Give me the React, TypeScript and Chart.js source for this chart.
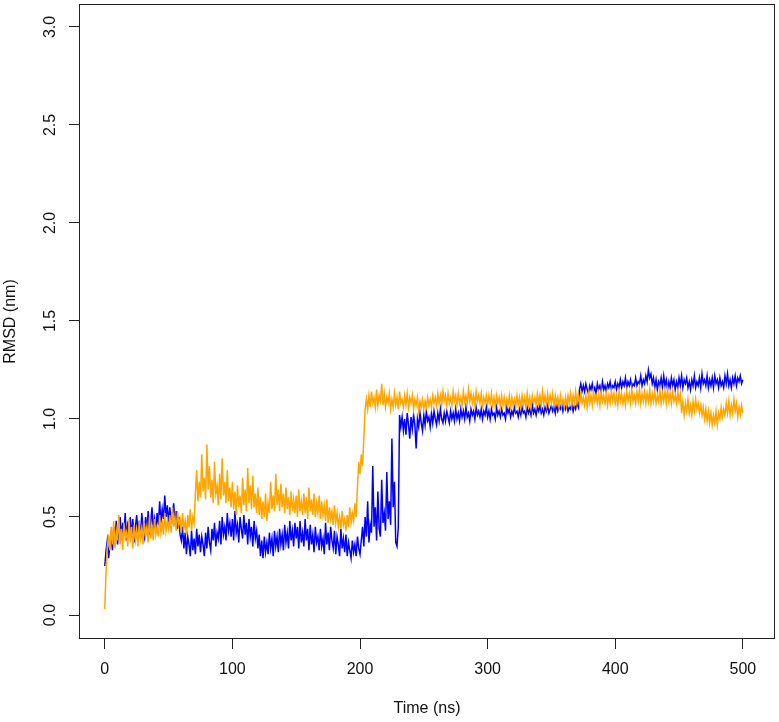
import React, { useEffect, useRef } from "react";
import { Chart, registerables } from "chart.js";

Chart.register(...registerables);

// Time step between samples (ns)
const STEP_NS = 1;

// Tick labels
const xTickValues = [0, 100, 200, 300, 400, 500];
const yTickValues = [0, 0.5, 1.0, 1.5, 2.0, 2.5, 3.0];

const xTitle = "Time (ns)";
const yTitle = "RMSD (nm)";

// Blue series RMSD (nm), one value every 1 ns from 0 to 500
const blueRmsd = [
  0.25, 0.33, 0.38, 0.29, 0.36, 0.42, 0.33, 0.45, 0.38, 0.48, 0.36, 0.44, 0.50, 0.39, 0.47, 0.41, 0.52, 0.38, 0.46, 0.43, 0.50, 0.40, 0.49, 0.37, 0.45,
  0.51, 0.42, 0.48, 0.39, 0.52, 0.44, 0.40, 0.50, 0.43, 0.53, 0.41, 0.47, 0.55, 0.44, 0.49, 0.42, 0.52, 0.46, 0.58, 0.47, 0.54, 0.49, 0.61, 0.50, 0.56,
  0.47, 0.55, 0.45, 0.52, 0.57, 0.46, 0.53, 0.44, 0.50, 0.41, 0.38, 0.45, 0.34, 0.42, 0.31, 0.40, 0.36, 0.30, 0.43, 0.33, 0.39, 0.31, 0.44, 0.35, 0.41,
  0.32, 0.40, 0.36, 0.30, 0.42, 0.34, 0.45, 0.37, 0.33, 0.44, 0.38, 0.47, 0.35, 0.42, 0.39, 0.48, 0.36, 0.50, 0.41, 0.45, 0.38, 0.52, 0.43, 0.47, 0.40,
  0.49, 0.38, 0.53, 0.42, 0.46, 0.37, 0.50, 0.44, 0.39, 0.51, 0.41, 0.47, 0.36, 0.49, 0.40, 0.45, 0.35, 0.48, 0.39, 0.43, 0.34, 0.41, 0.30, 0.38, 0.29,
  0.40, 0.32, 0.37, 0.31, 0.42, 0.34, 0.39, 0.30, 0.43, 0.35, 0.40, 0.32, 0.44, 0.36, 0.41, 0.33, 0.46, 0.37, 0.42, 0.34, 0.48, 0.38, 0.43, 0.35, 0.47,
  0.39, 0.45, 0.34, 0.48, 0.37, 0.42, 0.35, 0.49, 0.38, 0.44, 0.33, 0.46, 0.36, 0.41, 0.32, 0.45, 0.37, 0.40, 0.33, 0.44, 0.35, 0.39, 0.31, 0.47, 0.36,
  0.42, 0.33, 0.45, 0.38, 0.34, 0.43, 0.31, 0.40, 0.36, 0.30, 0.44, 0.34, 0.39, 0.32, 0.41, 0.30, 0.37, 0.33, 0.29, 0.38, 0.32, 0.36, 0.30, 0.40, 0.34,
  0.31, 0.38, 0.45, 0.35, 0.50, 0.40, 0.58, 0.37, 0.46, 0.42, 0.76, 0.45, 0.55, 0.38, 0.63, 0.44, 0.40, 0.69, 0.47, 0.52, 0.43, 0.73, 0.49, 0.58, 0.46,
  0.90, 0.55, 0.68, 0.37, 0.35, 0.45, 1.02, 0.96, 1.01, 0.94, 1.00, 0.92, 1.03, 0.97, 0.90, 1.01, 0.95, 1.02, 0.97, 0.85, 1.00, 0.96, 1.03, 0.98, 0.94,
  1.02, 0.97, 1.04, 0.99, 1.01, 0.96, 1.03, 0.98, 1.04, 1.00, 0.97, 1.03, 0.99, 1.05, 1.00, 0.98, 1.03, 0.99, 1.04, 1.01, 0.98, 1.04, 1.00, 1.03, 0.99,
  1.05, 1.00, 1.03, 0.99, 1.05, 1.01, 1.04, 1.00, 1.06, 1.01, 1.03, 0.99, 1.05, 1.02, 1.04, 1.00, 1.06, 1.02, 1.04, 1.01, 1.05, 1.00, 1.04, 1.02, 1.06,
  1.01, 1.04, 1.00, 1.05, 1.02, 1.03, 1.00, 1.06, 1.02, 1.04, 1.01, 1.05, 1.02, 1.03, 1.00, 1.06, 1.03, 1.05, 1.01, 1.04, 1.02, 1.06, 1.03, 1.04, 1.01,
  1.05, 1.02, 1.06, 1.03, 1.04, 1.01, 1.06, 1.03, 1.05, 1.02, 1.07, 1.03, 1.05, 1.02, 1.06, 1.04, 1.07, 1.03, 1.05, 1.02, 1.06, 1.04, 1.07, 1.03, 1.05,
  1.07, 1.04, 1.06, 1.03, 1.08, 1.04, 1.06, 1.05, 1.08, 1.04, 1.07, 1.05, 1.08, 1.04, 1.06, 1.05, 1.08, 1.04, 1.07, 1.05, 1.08, 1.06, 1.15, 1.18, 1.14,
  1.17, 1.14, 1.18, 1.15, 1.13, 1.17, 1.15, 1.18, 1.14, 1.16, 1.13, 1.18, 1.15, 1.17, 1.14, 1.19, 1.15, 1.17, 1.14, 1.18, 1.16, 1.19, 1.15, 1.17, 1.16,
  1.19, 1.15, 1.18, 1.16, 1.20, 1.16, 1.19, 1.17, 1.21, 1.16, 1.19, 1.17, 1.20, 1.16, 1.18, 1.17, 1.21, 1.17, 1.19, 1.18, 1.22, 1.17, 1.20, 1.18, 1.22,
  1.19, 1.25, 1.21, 1.23, 1.18, 1.21, 1.16, 1.20, 1.15, 1.19, 1.17, 1.21, 1.16, 1.22, 1.17, 1.20, 1.15, 1.19, 1.16, 1.21, 1.17, 1.20, 1.15, 1.19, 1.16,
  1.21, 1.17, 1.22, 1.16, 1.20, 1.18, 1.21, 1.16, 1.19, 1.15, 1.20, 1.17, 1.22, 1.16, 1.19, 1.17, 1.21, 1.16, 1.23, 1.18, 1.20, 1.17, 1.22, 1.16, 1.20,
  1.17, 1.21, 1.16, 1.22, 1.18, 1.20, 1.16, 1.21, 1.17, 1.19, 1.16, 1.22, 1.18, 1.23, 1.17, 1.20, 1.16, 1.21, 1.18, 1.22, 1.17, 1.21, 1.19, 1.22, 1.18,
  1.20,
];

// Orange series RMSD (nm), one value every 1 ns from 0 to 500
const orangeRmsd = [
  0.03, 0.22, 0.35, 0.41, 0.33, 0.45, 0.36, 0.48, 0.34, 0.43, 0.38, 0.51, 0.36, 0.44, 0.33, 0.47, 0.39, 0.42, 0.35, 0.49, 0.37, 0.45, 0.34, 0.46, 0.38,
  0.43, 0.35, 0.48, 0.39, 0.44, 0.36, 0.47, 0.40, 0.45, 0.37, 0.50, 0.39, 0.46, 0.38, 0.49, 0.41, 0.45, 0.40, 0.51, 0.42, 0.47, 0.41, 0.52, 0.43, 0.48,
  0.44, 0.51, 0.42, 0.55, 0.45, 0.50, 0.43, 0.53, 0.46, 0.49, 0.42, 0.52, 0.44, 0.48, 0.41, 0.51, 0.45, 0.54, 0.43, 0.50, 0.47, 0.62, 0.74, 0.58, 0.68,
  0.60, 0.82, 0.63, 0.70, 0.59, 0.87, 0.64, 0.76, 0.60, 0.69, 0.57, 0.78, 0.62, 0.66, 0.56, 0.72, 0.59, 0.80, 0.61, 0.68, 0.57, 0.74, 0.58, 0.65, 0.55,
  0.68, 0.54, 0.63, 0.51, 0.66, 0.55, 0.61, 0.52, 0.70, 0.56, 0.64, 0.53, 0.75, 0.57, 0.66, 0.54, 0.71, 0.55, 0.62, 0.52, 0.65, 0.51, 0.60, 0.49, 0.58,
  0.50, 0.62, 0.48, 0.57, 0.52, 0.68, 0.54, 0.61, 0.53, 0.72, 0.56, 0.64, 0.53, 0.67, 0.55, 0.62, 0.52, 0.65, 0.54, 0.60, 0.51, 0.63, 0.53, 0.59, 0.52,
  0.61, 0.50, 0.64, 0.53, 0.58, 0.51, 0.62, 0.52, 0.60, 0.49, 0.65, 0.53, 0.59, 0.51, 0.62, 0.50, 0.57, 0.52, 0.61, 0.49, 0.58, 0.51, 0.56, 0.48, 0.59,
  0.47, 0.55, 0.49, 0.53, 0.46, 0.56, 0.47, 0.52, 0.45, 0.50, 0.44, 0.53, 0.46, 0.49, 0.43, 0.51, 0.45, 0.55, 0.47, 0.52, 0.48, 0.57, 0.50, 0.65, 0.78,
  0.72, 0.82, 0.76, 0.90, 1.05, 1.10, 1.05, 1.12, 1.06, 1.14, 1.08, 1.11, 1.06, 1.15, 1.07, 1.12, 1.09, 1.18, 1.07, 1.13, 1.06, 1.11, 1.08, 1.13, 1.05,
  1.10, 1.06, 1.13, 1.07, 1.11, 1.05, 1.14, 1.08, 1.10, 1.06, 1.12, 1.07, 1.13, 1.06, 1.11, 1.08, 1.12, 1.05, 1.10, 1.07, 1.11, 1.04, 1.09, 1.06, 1.10,
  1.05, 1.09, 1.06, 1.11, 1.07, 1.10, 1.06, 1.12, 1.08, 1.11, 1.07, 1.13, 1.08, 1.12, 1.07, 1.14, 1.09, 1.12, 1.07, 1.13, 1.08, 1.11, 1.07, 1.14, 1.09,
  1.12, 1.07, 1.13, 1.08, 1.11, 1.07, 1.14, 1.09, 1.12, 1.08, 1.15, 1.09, 1.13, 1.08, 1.12, 1.07, 1.14, 1.09, 1.12, 1.08, 1.13, 1.07, 1.11, 1.08, 1.12,
  1.07, 1.12, 1.08, 1.13, 1.07, 1.11, 1.06, 1.12, 1.08, 1.11, 1.06, 1.12, 1.07, 1.11, 1.06, 1.10, 1.07, 1.12, 1.06, 1.11, 1.07, 1.10, 1.06, 1.12, 1.07,
  1.11, 1.06, 1.12, 1.07, 1.11, 1.06, 1.13, 1.07, 1.11, 1.06, 1.12, 1.08, 1.11, 1.07, 1.13, 1.08, 1.12, 1.07, 1.14, 1.08, 1.12, 1.07, 1.13, 1.08, 1.12,
  1.08, 1.13, 1.07, 1.12, 1.08, 1.11, 1.06, 1.12, 1.07, 1.10, 1.06, 1.11, 1.07, 1.12, 1.08, 1.13, 1.07, 1.12, 1.08, 1.14, 1.08, 1.12, 1.07, 1.13, 1.08,
  1.11, 1.07, 1.12, 1.06, 1.13, 1.08, 1.12, 1.07, 1.14, 1.09, 1.12, 1.08, 1.13, 1.07, 1.14, 1.09, 1.12, 1.08, 1.13, 1.07, 1.12, 1.08, 1.14, 1.09, 1.13,
  1.08, 1.12, 1.07, 1.14, 1.09, 1.13, 1.08, 1.12, 1.07, 1.14, 1.09, 1.13, 1.08, 1.15, 1.09, 1.12, 1.08, 1.14, 1.09, 1.15, 1.08, 1.13, 1.09, 1.14, 1.08,
  1.13, 1.09, 1.15, 1.08, 1.13, 1.09, 1.14, 1.08, 1.12, 1.09, 1.15, 1.08, 1.13, 1.09, 1.14, 1.08, 1.15, 1.09, 1.13, 1.08, 1.14, 1.09, 1.12, 1.08, 1.14,
  1.09, 1.13, 1.03, 1.09, 1.02, 1.08, 1.04, 1.10, 1.03, 1.07, 1.02, 1.09, 1.04, 1.10, 1.05, 1.08, 1.03, 1.07, 1.02, 1.06, 1.00, 1.05, 0.99, 1.04, 0.98,
  1.03, 0.97, 1.02, 0.98, 1.04, 0.97, 1.03, 1.00, 1.06, 1.01, 1.05, 1.02, 1.08, 1.03, 1.09, 1.02, 1.07, 1.03, 1.10, 1.04, 1.08, 1.01, 1.06, 1.02, 1.07,
  1.03,
];

const FONT_FAMILY = "'Liberation Sans', Arial, Helvetica, sans-serif";

const boxPlugin = {
  id: "plotBox",
  afterDraw(chart: any) {
    const { ctx, chartArea } = chart;
    ctx.save();
    ctx.strokeStyle = "#222";
    ctx.lineWidth = 1;
    const l = Math.round(chartArea.left) + 0.5;
    const t = Math.round(chartArea.top) + 0.5;
    const r = Math.round(chartArea.right) - 0.5;
    const b = Math.round(chartArea.bottom) - 0.5;
    ctx.strokeRect(l, t, r - l, b - t);
    ctx.restore();
  },
};

export default function App() {
  const canvasRef = useRef<HTMLCanvasElement | null>(null);

  useEffect(() => {
    const canvas = canvasRef.current;
    if (!canvas) return;
    const toPoints = (vals: number[]) => vals.map((v, i) => ({ x: i * STEP_NS, y: v }));

    const chart = new Chart(canvas, {
      type: "line",
      data: {
        datasets: [
          {
            label: "orange",
            data: toPoints(orangeRmsd),
            borderColor: "#FFA500",
            backgroundColor: "#FFA500",
            borderWidth: 1.5,
            pointRadius: 0,
            tension: 0,
            fill: false,
          },
          {
            label: "blue",
            data: toPoints(blueRmsd),
            borderColor: "#0000FF",
            backgroundColor: "#0000FF",
            borderWidth: 1.5,
            pointRadius: 0,
            tension: 0,
            fill: false,
          },
        ],
      },
      options: {
        responsive: false,
        animation: false,
        devicePixelRatio: 1,
        layout: { padding: { top: 4, right: 4, left: 0, bottom: 0 } },
        plugins: {
          legend: { display: false },
          tooltip: { enabled: false },
        },
        scales: {
          x: {
            type: "linear",
            position: "bottom",
            min: -20.2,
            max: 525.2,
            afterBuildTicks: (scale: any) => {
              scale.ticks = xTickValues.map((v) => ({ value: v }));
            },
            afterFit: (scale: any) => {
              scale.height = 83;
              scale.paddingLeft = 0;
              scale.paddingRight = 0;
              scale.paddingTop = 0;
              scale.paddingBottom = 0;
            },
            grid: {
              drawOnChartArea: false,
              drawTicks: true,
              tickLength: 10,
              color: "#222",
              lineWidth: 1,
            },
            border: { display: false },
            ticks: {
              autoSkip: false,
              maxRotation: 0,
              minRotation: 0,
              padding: 11,
              color: "#111",
              font: { family: FONT_FAMILY, size: 16 },
              callback: (v: any) => String(v),
            },
            title: {
              display: true,
              text: xTitle,
              color: "#111",
              font: { family: FONT_FAMILY, size: 16 },
              padding: { top: 0, bottom: 3.4 },
            },
          },
          y: {
            type: "linear",
            position: "left",
            min: -0.1224,
            max: 3.117,
            afterBuildTicks: (scale: any) => {
              scale.ticks = yTickValues.map((v) => ({ value: v }));
            },
            afterFit: (scale: any) => {
              scale.width = 79;
              scale.paddingLeft = 0;
              scale.paddingRight = 0;
              scale.paddingTop = 0;
              scale.paddingBottom = 0;
            },
            grid: {
              drawOnChartArea: false,
              drawTicks: true,
              tickLength: 10,
              color: "#222",
              lineWidth: 1,
            },
            border: { display: false },
            ticks: {
              autoSkip: false,
              minRotation: 90,
              maxRotation: 90,
              crossAlign: "center",
              padding: 7,
              color: "#111",
              font: { family: FONT_FAMILY, size: 16 },
              callback: (v: any) => Number(v).toFixed(1),
            },
            title: {
              display: true,
              text: yTitle,
              color: "#111",
              font: { family: FONT_FAMILY, size: 16 },
              padding: { top: 1, bottom: 0 },
            },
          },
        },
      },
      plugins: [boxPlugin],
    });

    return () => {
      chart.destroy();
    };
  }, []);

  return (
    <div style={{ position: "fixed", left: 0, top: 0, width: 779, height: 722, background: "#fff" }}>
      <canvas ref={canvasRef} width={779} height={722} style={{ display: "block" }} />
    </div>
  );
}
